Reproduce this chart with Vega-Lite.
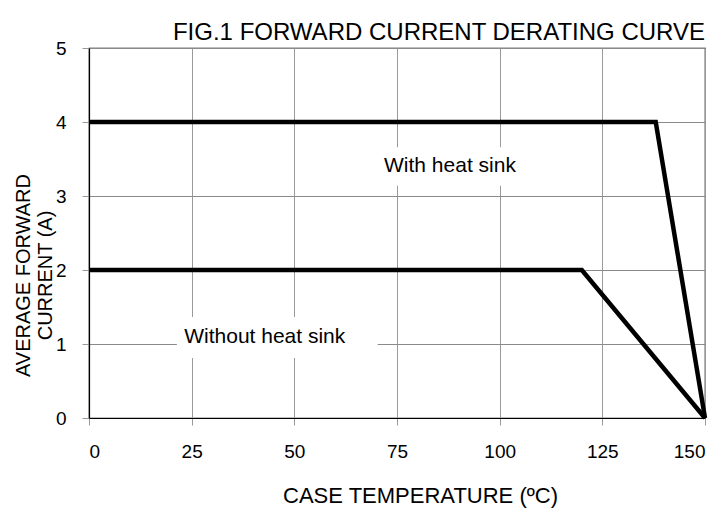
{
  "$schema": "https://vega.github.io/schema/vega-lite/v6.json",
  "width": 616,
  "height": 370,
  "autosize": "none",
  "padding": {"left": 89, "top": 48, "right": 15, "bottom": 92},
  "background": "white",
  "config": {
    "font": "Liberation Sans",
    "view": {"stroke": "black", "strokeWidth": 1.2}
  },
  "title": {
    "text": "FIG.1 FORWARD CURRENT DERATING CURVE",
    "anchor": "end",
    "frame": "group",
    "fontSize": 24,
    "fontWeight": "normal",
    "font": "Liberation Sans",
    "color": "black",
    "baseline": "bottom",
    "offset": 6,
    "dy": 36
  },
  "datasets": {
    "curves": [
      {"temp": 0, "current": 4, "series": "With heat sink"},
      {"temp": 138, "current": 4, "series": "With heat sink"},
      {"temp": 150, "current": 0, "series": "With heat sink"},
      {"temp": 0, "current": 2, "series": "Without heat sink"},
      {"temp": 120, "current": 2, "series": "Without heat sink"},
      {"temp": 150, "current": 0, "series": "Without heat sink"}
    ],
    "labels": [
      {"label": "With heat sink", "x": 87.9, "y": 3.4, "x1": 68.3, "x2": 107.2, "y1": 3.14, "y2": 3.66},
      {"label": "Without heat sink", "x": 42.8, "y": 1.09, "x1": 21.4, "x2": 70.3, "y1": 0.81, "y2": 1.365}
    ]
  },
  "layer": [
    {
      "data": {"name": "labels"},
      "mark": {"type": "rect", "fill": "white", "stroke": null},
      "encoding": {
        "x": {
          "field": "x1", "type": "quantitative",
          "scale": {"domain": [0, 150], "nice": false},
          "axis": {
            "values": [0, 25, 50, 75, 100, 125, 150],
            "format": "d",
            "grid": true,
            "gridColor": "#9a9a9a",
            "gridWidth": 1,
            "tickColor": "#9a9a9a",
            "tickSize": 7,
            "domainColor": "black",
            "domainWidth": 1.2,
            "labelFontSize": 19,
            "labelColor": "black",
            "labelPadding": 17,
            "title": "CASE TEMPERATURE (ºC)",
            "titleFontSize": 22,
            "titleFontWeight": "normal",
            "titleColor": "black",
            "titlePadding": 24,
            "titleX": 331,
            "titleAlign": "center"
          }
        },
        "x2": {"field": "x2"},
        "y": {
          "field": "y1", "type": "quantitative",
          "scale": {"domain": [0, 5], "nice": false},
          "axis": {
            "values": [0, 1, 2, 3, 4, 5],
            "format": "d",
            "grid": true,
            "gridColor": "#8a8a8a",
            "gridWidth": 1,
            "tickColor": "#9a9a9a",
            "tickSize": 7,
            "domainColor": "black",
            "domainWidth": 1.2,
            "labelFontSize": 19,
            "labelColor": "black",
            "labelPadding": 16,
            "title": ["AVERAGE FORWARD", "CURRENT (A)"],
            "titleFontSize": 20,
            "titleFontWeight": "normal",
            "titleColor": "black",
            "titleAngle": -90,
            "titleAlign": "center",
            "titleBaseline": "middle",
            "titleLineHeight": 22,
            "titleX": -66,
            "titleY": 227
          }
        },
        "y2": {"field": "y2"}
      }
    },
    {
      "data": {"name": "curves"},
      "mark": {"type": "line", "strokeWidth": 4.5, "strokeJoin": "miter", "strokeCap": "butt"},
      "encoding": {
        "x": {"field": "temp", "type": "quantitative"},
        "y": {"field": "current", "type": "quantitative"},
        "detail": {"field": "series"},
        "color": {"value": "black"}
      }
    },
    {
      "data": {"name": "labels"},
      "mark": {"type": "text", "fontSize": 21, "color": "black", "align": "center", "baseline": "middle"},
      "encoding": {
        "x": {"field": "x", "type": "quantitative"},
        "y": {"field": "y", "type": "quantitative"},
        "text": {"field": "label"}
      }
    }
  ]
}
